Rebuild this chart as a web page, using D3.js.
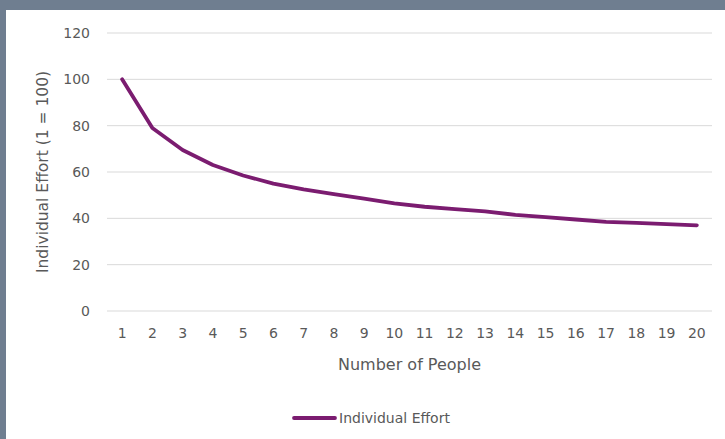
<!DOCTYPE html>
<html lang="en">
<head>
<meta charset="UTF-8">
<title>Individual Effort</title>
<script src="https://cdnjs.cloudflare.com/ajax/libs/d3/7.8.5/d3.min.js"></script>
<style>
    body {
        margin: 0;
        width: 725px;
        height: 439px;
        overflow: hidden;
        background-color: #6f7e90;
        font-family: "DejaVu Sans", Arial, sans-serif;
    }
    #chart {
        position: absolute;
        left: 6px;
        top: 10px;
        width: 719px;
        height: 429px;
        background-color: white;
    }
</style>
</head>
<body>
<div id="chart"></div>
<script>
    const people = d3.range(1, 21).map(String);
    const effort = [100, 79, 69.5, 63, 58.5, 55, 52.5, 50.5, 48.5, 46.5,
                    45, 44, 43, 41.5, 40.5, 39.5, 38.5, 38, 37.5, 37];
    const yTicks = [0, 20, 40, 60, 80, 100, 120];

    const width = 719, height = 429;
    // plot area in chart coords (chart offset 6,10)
    const plot = { left: 101, right: 706, top: 23, bottom: 301 };

    const svg = d3.select("#chart").append("svg")
        .attr("width", width)
        .attr("height", height);

    const x = d3.scaleBand().domain(people).range([plot.left, plot.right]);
    const y = d3.scaleLinear().domain([0, 120]).range([plot.bottom, plot.top]);

    // gridlines
    svg.append("g")
        .selectAll("line")
        .data(yTicks)
        .enter().append("line")
        .attr("x1", plot.left).attr("x2", plot.right)
        .attr("y1", d => y(d)).attr("y2", d => y(d))
        .style("stroke", "#d9d9d9")
        .style("stroke-width", "1px");

    // y tick labels
    svg.append("g")
        .selectAll("text")
        .data(yTicks)
        .enter().append("text")
        .attr("x", plot.left - 17)
        .attr("y", d => y(d))
        .attr("dy", "0.35em")
        .attr("text-anchor", "end")
        .style("font-size", "14px")
        .style("fill", "#595959")
        .text(d => d);

    // x tick labels
    svg.append("g")
        .selectAll("text")
        .data(people)
        .enter().append("text")
        .attr("x", d => x(d) + x.bandwidth() / 2)
        .attr("y", plot.bottom + 22)
        .attr("dy", "0.35em")
        .attr("text-anchor", "middle")
        .style("font-size", "14px")
        .style("fill", "#595959")
        .text(d => d);

    // axis titles
    svg.append("text")
        .attr("x", (plot.left + plot.right) / 2)
        .attr("y", plot.bottom + 53)
        .attr("dy", "0.35em")
        .attr("text-anchor", "middle")
        .style("font-size", "16px")
        .style("fill", "#595959")
        .text("Number of People");

    svg.append("text")
        .attr("transform", `translate(37,${(plot.top + plot.bottom) / 2}) rotate(-90)`)
        .attr("dy", "0.35em")
        .attr("text-anchor", "middle")
        .style("font-size", "15.5px")
        .style("fill", "#595959")
        .text("Individual Effort (1 = 100)");

    // the line
    const line = d3.line()
        .x((d, i) => x(people[i]) + x.bandwidth() / 2)
        .y(d => y(d));

    svg.append("path")
        .datum(effort)
        .attr("d", line)
        .style("fill", "none")
        .style("stroke", "#7b1c70")
        .style("stroke-width", "3.8px")
        .style("stroke-linejoin", "round")
        .style("stroke-linecap", "round");

    // legend
    const legend = svg.append("g").attr("transform", "translate(288,408)");
    legend.append("line")
        .attr("x1", 0).attr("x2", 41)
        .style("stroke", "#7b1c70")
        .style("stroke-width", "3.8px")
        .style("stroke-linecap", "round");
    legend.append("text")
        .attr("x", 45)
        .attr("dy", "0.35em")
        .style("font-size", "14px")
        .style("fill", "#595959")
        .text("Individual Effort");
</script>
</body>
</html>
